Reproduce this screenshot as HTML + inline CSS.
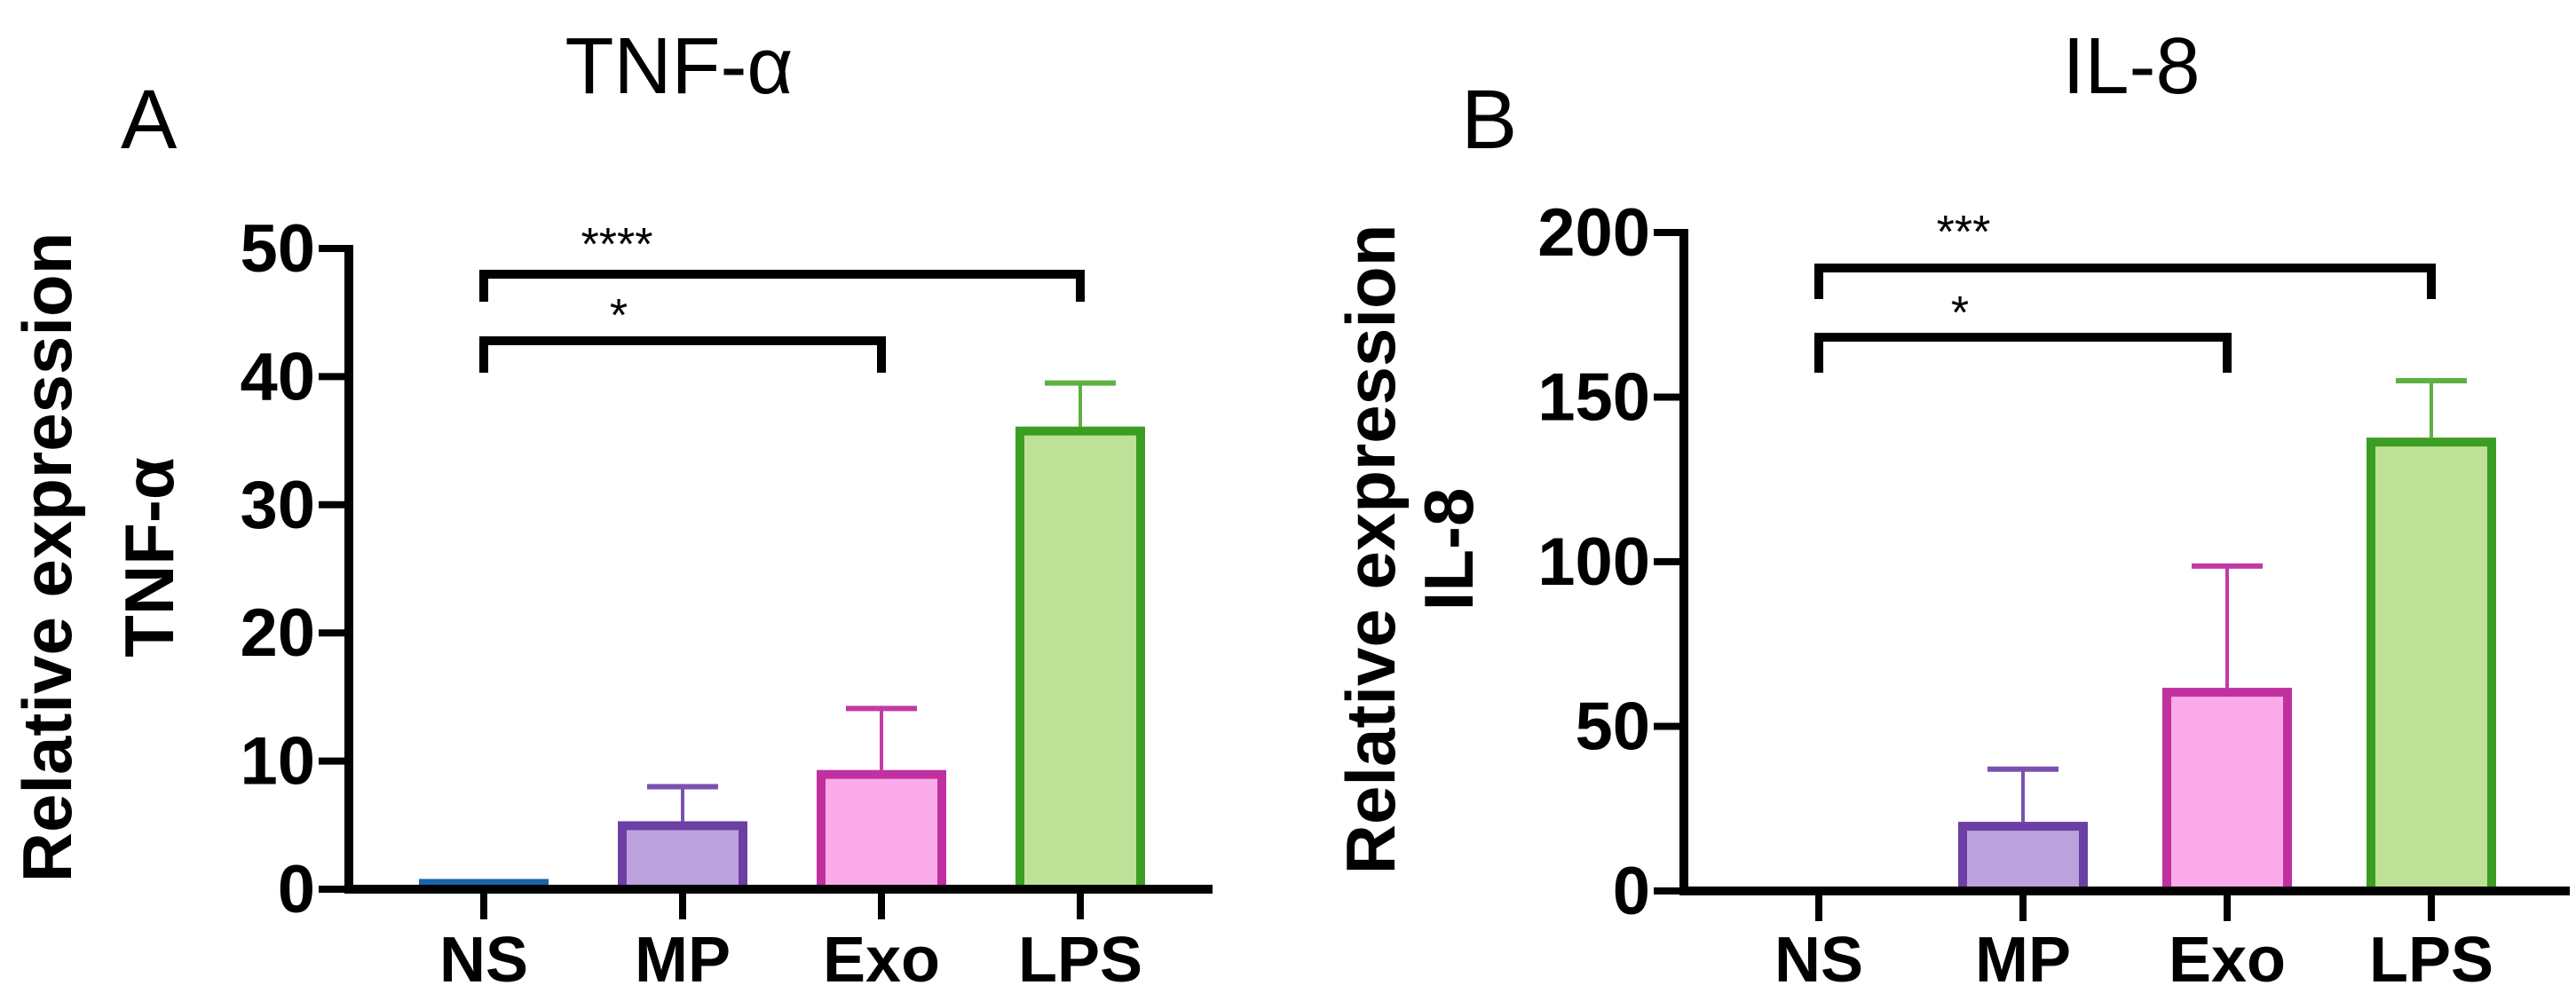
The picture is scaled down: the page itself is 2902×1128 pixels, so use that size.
<!DOCTYPE html>
<html><head><meta charset="utf-8"><style>
html,body{margin:0;padding:0;background:#fff;}
svg{display:block;font-family:"Liberation Sans",sans-serif;}
</style></head><body>
<svg id="chart" width="2902" height="1128" viewBox="0 0 2902 1128" xmlns="http://www.w3.org/2000/svg"></svg>
<script>
const categories = ["NS","MP","Exo","LPS"];
const tnfMeans = [0.8, 5.3, 9.3, 36.1];
const tnfErrors = [0, 2.7, 4.8, 3.4];
const tnfTicks = [0,10,20,30,40,50];
const il8Means = [0, 21, 61.7, 137.7];
const il8Errors = [0, 16, 37, 17.3];
const il8Ticks = [0,50,100,150,200];
const fills = ["#1a66ad","#bca2dd","#fbabea","#bde197"];
const strokes = ["#1a66ad","#6b3fa3","#c1309f","#3b9e22"];
const errColors = ["#1a66ad","#7a52b0","#c23aa5","#5eb045"];

const NS = "http://www.w3.org/2000/svg";
const svg = document.getElementById('chart');
function mk(tag, attrs, parent, text){
  const e = document.createElementNS(NS, tag);
  for (const k in attrs) e.setAttribute(k, attrs[k]);
  if (text !== undefined) e.textContent = text;
  (parent||svg).appendChild(e);
  return e;
}

function panel(cfg){
  const g = mk('g', {});
  
  
  const y = v => cfg.y0 + (cfg.yTop - cfg.y0) * v / cfg.max;
  const x = i => cfg.xs[0] + i * cfg.step;
  // title
  const t = mk('text', {x: cfg.titleX, y: 105, 'font-size': 90, 'text-anchor':'middle', fill:'#000'}, g, cfg.title);
  
  
  const l = mk('text', {x: cfg.letterX, y: 167, 'font-size': 95, fill:'#000'}, g, cfg.letter);
  
  
  // y axis title
  const yt = mk('text', {transform:`translate(${cfg.ylabX},${cfg.ylabY}) rotate(-90)`, 'font-size':78, 'font-weight':'bold', 'text-anchor':'middle', 'dominant-baseline':'central'}, g, 'Relative expression');
  
  
  const yt2 = mk('text', {transform:`translate(${cfg.ylab2X},${cfg.ylabY}) rotate(-90)`, 'font-size':78, 'font-weight':'bold', 'text-anchor':'middle', 'dominant-baseline':'central'}, g, cfg.title);
  
  
  // bars
  cfg.means.forEach((m, i) => {
    if (m <= 0) return;
    const cx = x(i), w = 146, sw = 10;
    const top = y(m);
    if (cfg.errs[i] > 0) {
      const et = y(m + cfg.errs[i]);
      const el = mk('line', {x1:cx, x2:cx, y1:top, y2:et, stroke:errColors[i], 'stroke-width':4}, g);
      
      
      const cap = mk('line', {x1:cx-40, x2:cx+40, y1:et, y2:et, stroke:errColors[i], 'stroke-width':6}, g);
      
      
    }
    const h = cfg.y0 - top;
    let b;
    if (h < 16) {
      b = mk('rect', {x:cx-w/2, y:top, width:w, height:h, fill:strokes[i]}, g);
    } else {
      b = mk('rect', {x:cx-w/2+sw/2, y:top+sw/2, width:w-sw, height:h-sw/2, fill:fills[i], stroke:strokes[i], 'stroke-width':sw}, g);
    }
    
    
  });
  // axes
  const ya = mk('line', {x1:cfg.ax, x2:cfg.ax, y1:y(cfg.max)-4, y2:cfg.y0+5, stroke:'#000', 'stroke-width':10}, g);
  
  
  const xa = mk('line', {x1:cfg.ax-5, x2:cfg.axEnd, y1:cfg.y0, y2:cfg.y0, stroke:'#000', 'stroke-width':10}, g);
  
  
  cfg.ticks.forEach(v => {
    const tk = mk('line', {x1:cfg.ax-34, x2:cfg.ax, y1:y(v), y2:y(v), stroke:'#000', 'stroke-width':8}, g);
    
    
    const tl = mk('text', {x:cfg.ax-38, y:y(v)+26, 'font-size':76, 'font-weight':'bold', 'text-anchor':'end'}, g, String(v));
    
    
  });
  categories.forEach((c, i) => {
    const tk = mk('line', {x1:x(i), x2:x(i), y1:cfg.y0, y2:cfg.y0+34, stroke:'#000', 'stroke-width':8}, g);
    
    
    const tl = mk('text', {x:x(i), y:1106, 'font-size':72, 'font-weight':'bold', 'text-anchor':'middle'}, g, c);
    
    
  });
  // significance brackets
  cfg.brackets.forEach(br => {
    const x1 = x(br.from), x2 = x(br.to);
    const p = mk('path', {d:`M${x1},${br.legY} L${x1},${br.y} L${x2},${br.y} L${x2},${br.legY}`, fill:'none', stroke:'#000', 'stroke-width':10}, g);
    
    
    const s = mk('text', {x:br.sx, y:br.sy, 'font-size':52, 'text-anchor':'middle'}, g, br.label);
    
    
  });
}

panel({name:'panel-a-tnf', title:'TNF-α', letter:'A', titleX:765, letterX:136,
  ylabX:53, ylab2X:168, ylabY:628,
  ax:393, axEnd:1366, y0:1002, yTop:280, max:50, ticks:tnfTicks,
  xs:[545], step:224, means:tnfMeans, errs:tnfErrors,
  brackets:[{from:0,to:3,y:309,legY:340,label:'****',sx:695,sy:293},
            {from:0,to:2,y:384,legY:420,label:'*',sx:697,sy:373}]});
panel({name:'panel-b-il8', title:'IL-8', letter:'B', titleX:2401, letterX:1646,
  ylabX:1544, ylab2X:1632, ylabY:619,
  ax:1897, axEnd:2895, y0:1004, yTop:262, max:200, ticks:il8Ticks,
  xs:[2049], step:230, means:il8Means, errs:il8Errors,
  brackets:[{from:0,to:3,y:302,legY:337,label:'***',sx:2212,sy:279},
            {from:0,to:2,y:380,legY:420,label:'*',sx:2208,sy:370}]});
</script>
</body></html>
